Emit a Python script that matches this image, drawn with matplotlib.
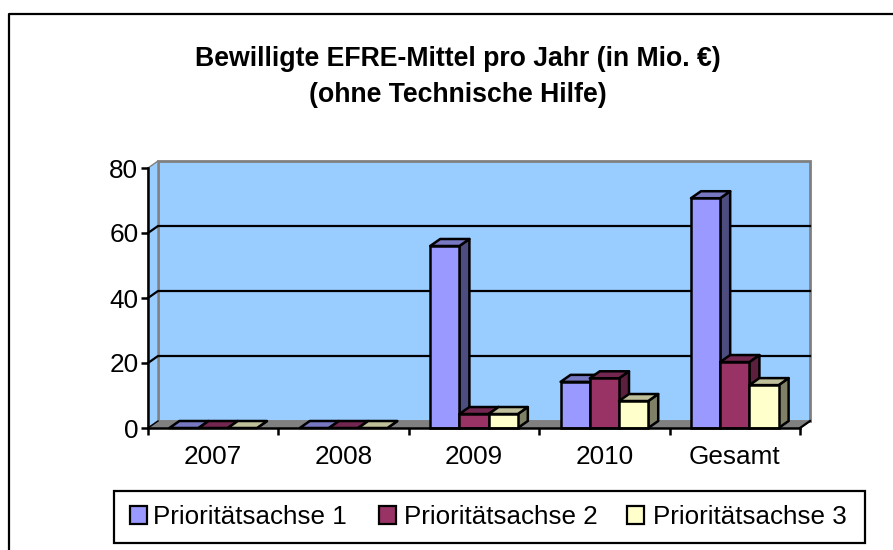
import matplotlib
matplotlib.use("Agg")
import matplotlib.pyplot as plt
from matplotlib.lines import Line2D
from matplotlib.patches import Polygon, Rectangle

plt.rcParams["font.family"] = ["Liberation Sans", "DejaVu Sans"]

kategorien = ["2007", "2008", "2009", "2010", "Gesamt"]
achse1 = [0, 0, 56, 14.2, 70.7]
achse2 = [0, 0, 4.3, 15.3, 20.3]
achse3 = [0, 0, 4.3, 8.3, 13.2]
y_ticks = [0, 20, 40, 60, 80]
namen = ["Prioritätsachse 1", "Prioritätsachse 2", "Prioritätsachse 3"]

W, H = 893, 550
L, R, T, B = 148, 800, 168, 428      # Vorderkante des Diagramms in Pixeln
DX_PX, DY_PX = 10, 7                 # 3D-Tiefe
LW = 1.8

# front, top, side
farben = [("#9999FF", "#7777C2", "#4D4D80"),
          ("#993366", "#732650", "#5C1F3D"),
          ("#FFFFCC", "#BFBF99", "#808066")]

fig = plt.figure(figsize=(W / 100, H / 100), dpi=100, facecolor="white")
ax = fig.add_axes([L / W, 1 - B / H, (R - L) / W, (B - T) / H])
ax.set_xlim(0, 5)
ax.set_ylim(0, 80)
ax.patch.set_visible(False)
dx = DX_PX / (R - L) * 5
dy = DY_PX / (B - T) * 80

# Wand und Boden
ax.add_patch(Polygon([(dx, dy), (5 + dx, dy), (5 + dx, 80 + dy), (dx, 80 + dy)],
                     fc="#99CCFF", ec="#808080", lw=2, clip_on=False, zorder=1))
ax.add_patch(Polygon([(0, 0), (dx, dy), (dx, 80 + dy), (0, 80)],
                     fc="#99CCFF", ec="#808080", lw=1, clip_on=False, zorder=1))
ax.add_patch(Polygon([(0, 0), (dx, dy), (5 + dx, dy), (5, 0)],
                     fc="#808080", ec="#808080", lw=1, clip_on=False, zorder=1))
for v in y_ticks[1:-1]:
    ax.plot([0, dx, 5 + dx], [v, v + dy, v + dy], color="black", lw=1.6,
            clip_on=False, zorder=2)
ax.plot([0, dx], [0, dy], color="black", lw=1, clip_on=False, zorder=2)
ax.plot([5, 5 + dx], [0, dy], color="black", lw=1.6, clip_on=False, zorder=2)

# Balken, von links nach rechts damit die Seiten korrekt verdeckt werden
breite = 0.224
start = (1 - 3 * breite) / 2
z = 3
for i in range(len(kategorien)):
    for s, werte in enumerate([achse1, achse2, achse3]):
        x0 = i + start + s * breite
        x1 = x0 + breite
        v = werte[i]
        front, top, side = farben[s]
        ax.add_patch(Polygon([(x1, 0), (x1 + dx, dy), (x1 + dx, v + dy), (x1, v)],
                             fc=side, ec="black", lw=LW, joinstyle="round",
                             clip_on=False, zorder=z))
        ax.add_patch(Polygon([(x0, v), (x1, v), (x1 + dx, v + dy), (x0 + dx, v + dy)],
                             fc=top, ec="black", lw=LW, joinstyle="round",
                             clip_on=False, zorder=z))
        if v > 0:
            ax.bar(x0, v, breite, align="edge", color=front, edgecolor="black",
                   lw=LW, clip_on=False, zorder=z)
        z += 1

for name in ["top", "right"]:
    ax.spines[name].set_visible(False)
for name in ["left", "bottom"]:
    ax.spines[name].set_linewidth(LW)
    ax.spines[name].set_zorder(50)

ax.set_yticks(y_ticks)
ax.set_xticks([i + 0.5 for i in range(5)])
ax.set_xticklabels(kategorien)
ax.set_xticks(range(6), minor=True)
ax.tick_params(axis="x", which="major", length=0, pad=12, labelsize=18.8)
ax.tick_params(axis="x", which="minor", length=5, width=LW)
ax.tick_params(axis="y", length=5, width=LW, pad=2, labelsize=18.8)

fig.text(458 / W, 1 - 59.5 / H, "Bewilligte EFRE-Mittel pro Jahr (in Mio. €)",
         ha="center", va="center", fontsize=19.2, fontweight="bold")
fig.text(458 / W, 1 - 94.5 / H, "(ohne Technische Hilfe)",
         ha="center", va="center", fontsize=19.2, fontweight="bold")

# Rahmen: oben bis zum Bildrand, rechts und unten abgeschnitten
fig.add_artist(Line2D([9 / W, 9 / W, 1], [0, 1 - 14 / H, 1 - 14 / H],
                      color="black", lw=1.6))

# Legende
fig.add_artist(Rectangle((114 / W, 1 - 543 / H), 751 / W, 52 / H, fc="white",
                         ec="black", lw=1.6, transform=fig.transFigure))
for x_box, x_txt, name, farbe in zip([130, 379, 627], [153, 404, 653], namen, farben):
    fig.add_artist(Rectangle((x_box / W, 1 - 524 / H), 17 / W, 18 / H, fc=farbe[0],
                             ec="black", lw=1.6, transform=fig.transFigure))
    fig.text(x_txt / W, 1 - 516.5 / H, name, ha="left", va="center", fontsize=18.7)

fig.savefig("out.png", dpi=100, facecolor="white")
